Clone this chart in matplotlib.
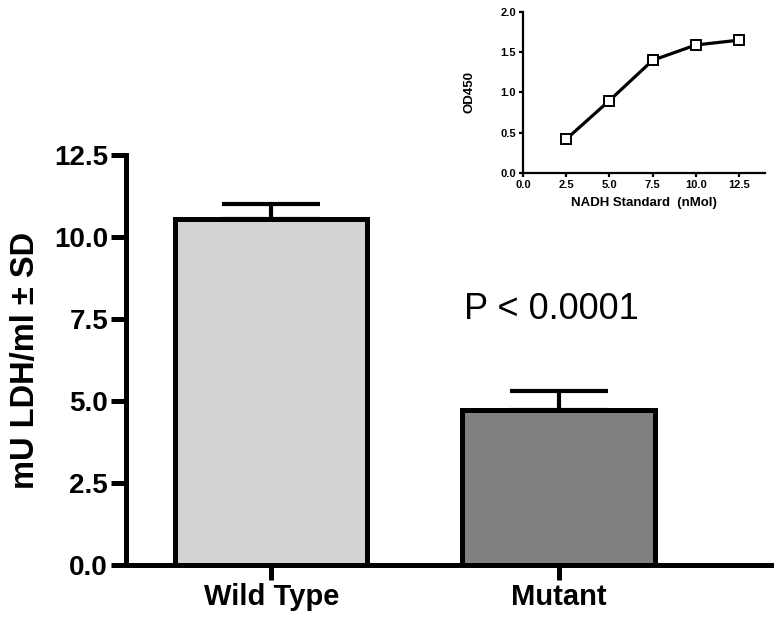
import numpy as np
import matplotlib
matplotlib.use("Agg")
import matplotlib.pyplot as plt

plt.rcParams['font.family'] = ['Liberation Sans', 'DejaVu Sans']

# main bar chart data
groups = ["Wild Type", "Mutant"]
means = [10.55, 4.73]
sds = [0.45, 0.57]
bar_colors = ["#d3d3d3", "#808080"]

# inset: NADH standard curve
nadh = [2.5, 5.0, 7.5, 10.0, 12.5]
od450 = [0.42, 0.90, 1.40, 1.59, 1.65]

fig = plt.figure(figsize=(7.74, 6.2), dpi=100)

ax = fig.add_axes([0.163, 0.0887, 0.837, 0.661])
x = np.arange(len(groups))
ax.bar(x, means, width=0.67, color=bar_colors, edgecolor="black", linewidth=3.6, zorder=2)
ax.errorbar(x, means, yerr=[[0, 0], sds], fmt="none", ecolor="black",
            elinewidth=3, capsize=35, capthick=3, zorder=1)
ax.set_xlim(-0.505, 1.75)
ax.set_ylim(0, 12.5)
ax.set_yticks([0, 2.5, 5.0, 7.5, 10.0, 12.5])
ax.set_yticklabels(["0.0", "2.5", "5.0", "7.5", "10.0", "12.5"], fontsize=20, fontweight="bold")
ax.set_xticks(x)
ax.set_xticklabels(groups, fontsize=21, fontweight="bold")
ax.set_ylabel("mU LDH/ml \u00b1 SD", fontsize=23.5, fontweight="bold", labelpad=9)
ax.spines["top"].set_visible(False)
ax.spines["right"].set_visible(False)
for s in ["left", "bottom"]:
    ax.spines[s].set_linewidth(3.6)
ax.tick_params(axis="both", direction="out", length=11, width=3.6, pad=2)
ax.text(0.975, 7.8, "P < 0.0001", fontsize=26, ha="center", va="center")

ins = fig.add_axes([0.6757, 0.721, 0.3127, 0.2597])
ins.plot(nadh, od450, color="black", linewidth=2.3, marker="s", markersize=6.5,
         markerfacecolor="white", markeredgecolor="black", markeredgewidth=1.4)
ins.set_xlim(0, 14)
ins.set_ylim(0, 2.0)
ins.set_xticks([0, 2.5, 5.0, 7.5, 10.0, 12.5])
ins.set_xticklabels(["0.0", "2.5", "5.0", "7.5", "10.0", "12.5"], fontsize=8, fontweight="bold")
ins.set_yticks([0, 0.5, 1.0, 1.5, 2.0])
ins.set_yticklabels(["0.0", "0.5", "1.0", "1.5", "2.0"], fontsize=8, fontweight="bold")
ins.set_xlabel("NADH Standard  (nMol)", fontsize=9.5, fontweight="bold", labelpad=5)
ins.set_ylabel("OD450", fontsize=9.5, fontweight="bold", labelpad=18)
ins.spines["top"].set_visible(False)
ins.spines["right"].set_visible(False)
for s in ["left", "bottom"]:
    ins.spines[s].set_linewidth(1.6)
ins.tick_params(axis="both", direction="out", length=3, width=1.6, pad=2)

fig.savefig("out.png", dpi=100)
